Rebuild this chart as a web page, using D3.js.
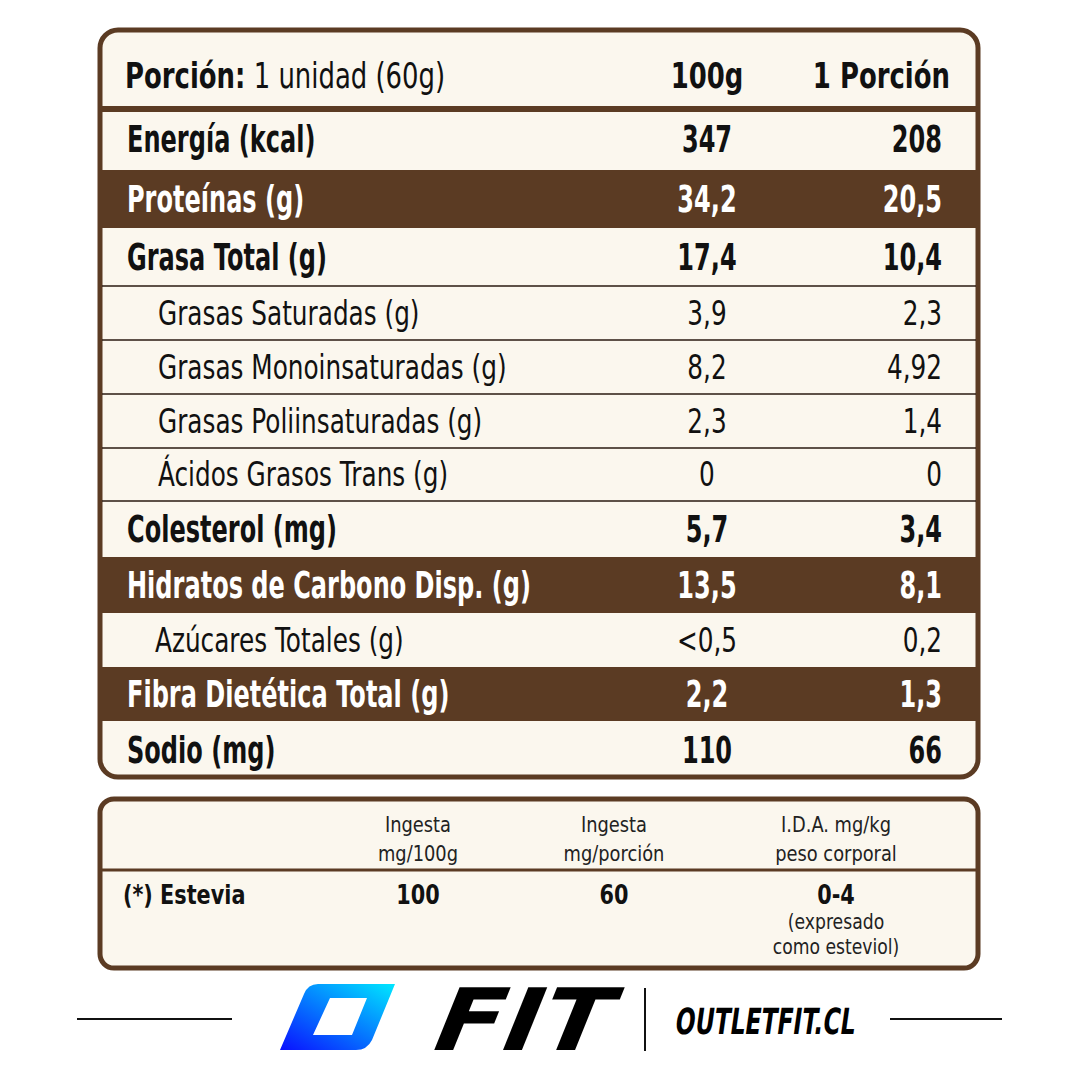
<!DOCTYPE html>
<html><head><meta charset="utf-8">
<script src="https://cdn.jsdelivr.net/npm/d3@7"></script>
<style>body{margin:0;background:#fff}svg{display:block}</style>
</head><body><svg id="c" width="1079" height="1079"></svg>
<script>
const labels = ["Energía (kcal)","Proteínas (g)","Grasa Total (g)","Grasas Saturadas (g)","Grasas Monoinsaturadas (g)","Grasas Poliinsaturadas (g)","Ácidos Grasos Trans (g)","Colesterol (mg)","Hidratos de Carbono Disp. (g)","Azúcares Totales (g)","Fibra Dietética Total (g)","Sodio (mg)"];
const per100 = ["347","34,2","17,4","3,9","8,2","2,3","0","5,7","13,5","<0,5","2,2","110"];
const perPortion = ["208","20,5","10,4","2,3","4,92","1,4","0","3,4","8,1","0,2","1,3","66"];
const rowType = ["bold","band","bold","sub","sub","sub","sub","bold","band","sub","band","bold"];
const rowEdges = [108,170,228,286,340,394,448,501,557,613,667,721,779];
const stHead = ["Ingesta|mg/100g","Ingesta|mg/porción","I.D.A. mg/kg|peso corporal"];
const stVals = ["100","60","0-4"];

const BROWN="#5b3b23", CREAM="#fbf7ee", F="'DejaVu Sans',sans-serif";
const svg=d3.select("#c");
const yr=i=>rowEdges[i], yc=i=>(rowEdges[i]+rowEdges[i+1])/2;
function txt(sel,x,y,s,o){
  o=Object.assign({fs:36,w:"bold",sx:0.74,anchor:"start",fill:"#111"},o||{});
  return sel.append("text").attr("transform",`translate(${x},${y}) scale(${o.sx},1)`)
    .attr("text-anchor",o.anchor).attr("font-family",F).attr("font-weight",o.w)
    .attr("font-size",o.fs).attr("fill",o.fill).text(s);
}

svg.append("rect").attr("x",100).attr("y",30).attr("width",878).attr("height",747).attr("rx",18).attr("fill",CREAM).attr("stroke",BROWN).attr("stroke-width",5);
const g=svg.append("g");
labels.forEach((l,i)=>{
  const t=rowType[i];
  if(t==="band") g.append("rect").attr("x",102).attr("y",yr(i)).attr("width",874).attr("height",yr(i+1)-yr(i)).attr("fill",BROWN);
  if(i>0 && rowType[i-1]!=="band" && t!=="band") g.append("line").attr("x1",102).attr("x2",976).attr("y1",yr(i)).attr("y2",yr(i)).attr("stroke","#2a1a10").attr("stroke-width",1.5);
  const fill=t==="band"?"#fff":"#111";
  const o=t==="sub"?{w:"normal",fs:33,sx:0.75,fill}:{w:"bold",fs:37,sx:0.65,fill};
  const base=yc(i)+o.fs*0.36;
  txt(g,t==="sub"?(l.startsWith("Az")?155:158):127,base,l,o);
  txt(g,707,base,per100[i],Object.assign({anchor:"middle"},o));
  txt(g,942,base,perPortion[i],Object.assign({anchor:"end"},o));
});
svg.append("line").attr("x1",102).attr("x2",976).attr("y1",109).attr("y2",109).attr("stroke",BROWN).attr("stroke-width",6);
const h=txt(svg,125,88,"",{w:"normal",sx:0.72}).text(null);
h.append("tspan").attr("font-weight","bold").text("Porción:");
h.append("tspan").text(" 1 unidad (60g)");
txt(svg,707,88,"100g",{anchor:"middle",sx:0.72});
txt(svg,950,88,"1 Porción",{anchor:"end",sx:0.72});

svg.append("rect").attr("x",100).attr("y",799).attr("width",878).attr("height",169).attr("rx",14).attr("fill",CREAM).attr("stroke",BROWN).attr("stroke-width",5);
svg.append("line").attr("x1",102).attr("x2",976).attr("y1",870).attr("y2",870).attr("stroke",BROWN).attr("stroke-width",3);
const cx=[418,614,836];
stHead.forEach((s,i)=>s.split("|").forEach((p,j)=>txt(svg,cx[i],832+j*29,p,{anchor:"middle",w:"normal",fs:21,sx:0.85,fill:"#222"})));
txt(svg,123,904,"(*) Estevia",{fs:26,sx:0.8});
stVals.forEach((v,i)=>txt(svg,cx[i],904,v,{anchor:"middle",fs:26,sx:0.8}));
["(expresado","como esteviol)"].forEach((p,j)=>txt(svg,836,929+j*25,p,{anchor:"middle",w:"normal",fs:21,sx:0.82,fill:"#222"}));

svg.append("line").attr("x1",77).attr("x2",232).attr("y1",1019).attr("y2",1019).attr("stroke","#111").attr("stroke-width",2);
svg.append("line").attr("x1",890).attr("x2",1002).attr("y1",1019).attr("y2",1019).attr("stroke","#111").attr("stroke-width",2);
svg.append("line").attr("x1",645).attr("x2",645).attr("y1",988).attr("y2",1051).attr("stroke","#111").attr("stroke-width",2);
const defs=svg.append("defs");
const gr=defs.append("linearGradient").attr("id","lg").attr("x1","0").attr("y1","1").attr("x2","1").attr("y2","0");
gr.append("stop").attr("offset","0").attr("stop-color","#0a10ff");
gr.append("stop").attr("offset","1").attr("stop-color","#00e8ff");
svg.append("path").attr("fill","url(#lg)").attr("fill-rule","evenodd")
 .attr("d","M318,984 L395,984 L372,1040 Q367,1050 356,1050 L280,1050 L304,994 Q308,984 318,984 Z M330,998 L367,998 L352,1035 L313,1035 Z");
svg.append("text").attr("x",0).attr("y",0).attr("transform","translate(425,1050) skewX(-22)").attr("font-family",F).attr("font-weight","bold").attr("font-size",86).attr("textLength",175).attr("lengthAdjust","spacingAndGlyphs").text("FIT");
svg.append("text").attr("x",0).attr("y",0).attr("transform","translate(674,1034) skewX(-8)").attr("font-family",F).attr("font-weight","bold").attr("font-size",36).attr("textLength",180).attr("lengthAdjust","spacingAndGlyphs").text("OUTLETFIT.CL");
</script></body></html>
